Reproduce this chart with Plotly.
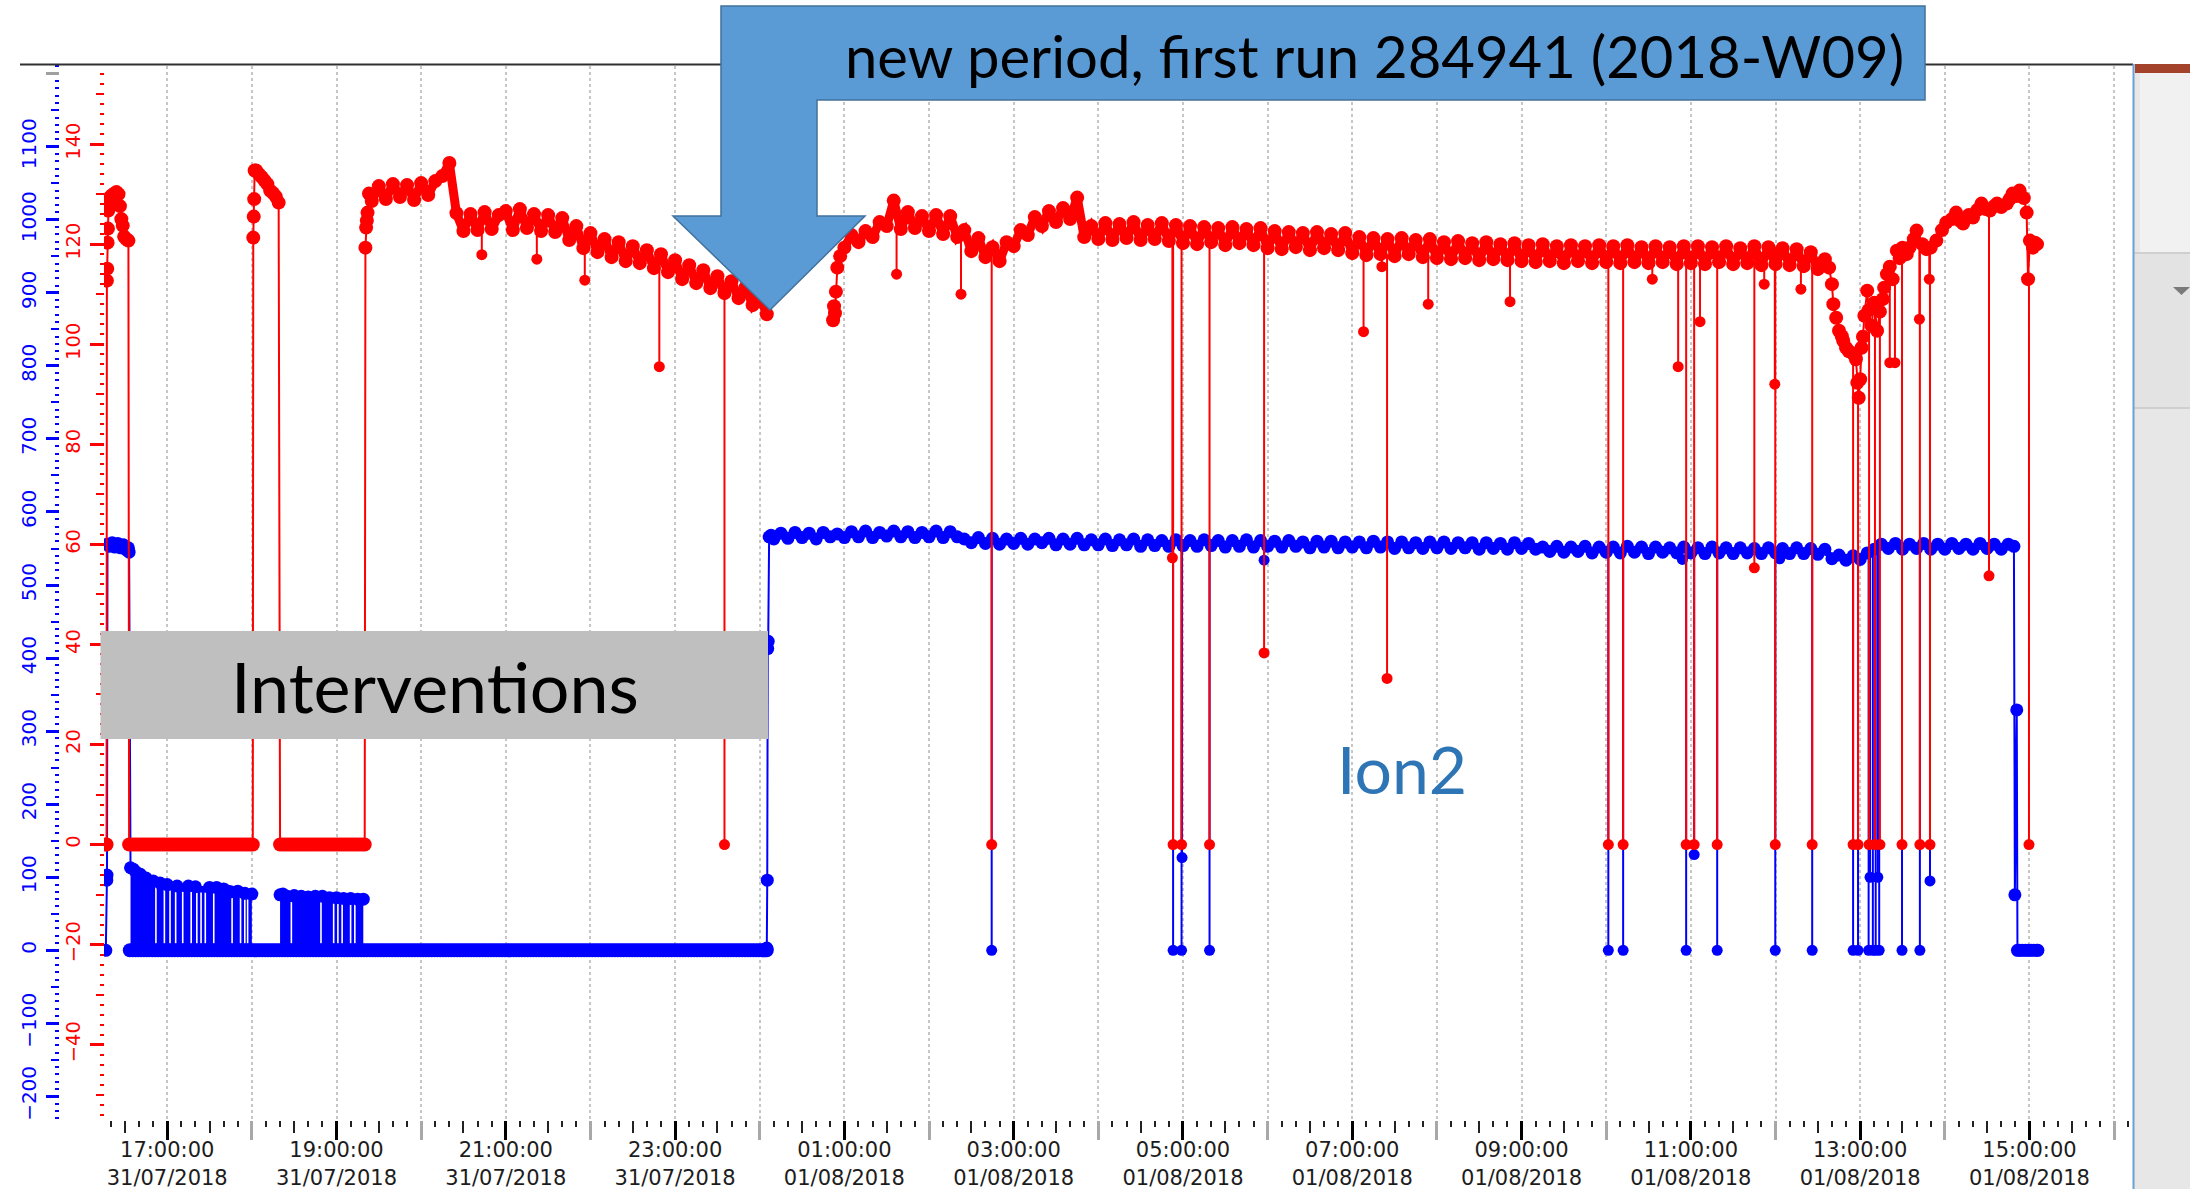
import pandas as pd
import plotly.graph_objects as go

W, H = 2190, 1189
BLUE = "#0000FF"
RED = "#FF0000"

# ---------------- red channel (right-hand scale, -55 .. 155) ----------------
red_a_t = ["16:16:30", "16:17:00", "16:17:15", "16:17:30", "16:17:45", "16:18:00", "16:18:15",
           "16:18:30", "16:19:30", "16:21:00", "16:22:30", "16:24:00", "16:25:30", "16:26:30",
           "16:27:30", "16:28:30", "16:29:30", "16:31:00", "16:32:30"]
red_a_v = [0, 0, 112.7, 115.1, 120.3, 123.1, 126.7, 128.7, 129.4, 129.8, 130.1, 130.4, 130.0,
           127.6, 125.0, 123.7, 121.5, 121.0, 120.7]

red_b_t = ["18:01:00", "18:01:20", "18:01:40", "18:02:00", "18:03", "18:05", "18:07", "18:09",
           "18:11", "18:13", "18:15", "18:17", "18:19"]
red_b_v = [121.3, 125.5, 129.0, 134.7, 134.7, 134.0, 133.4, 132.7, 132.0, 130.7, 130.2, 129.5, 128.3]

red_c0_t = ["19:20:30", "19:21:00", "19:21:30", "19:22:00", "19:23:00"]
red_c0_v = [119.3, 123.3, 124.7, 126.3, 130.1]

# 5-minute samples from 19:25 to 00:05
red_c_v = [128.6, 131.6, 129.0, 132.0, 129.4, 131.8, 128.8,
           132.2, 129.8, 132.6, 133.6, 136.2, 126.2, 122.6, 126.0, 122.8, 126.4, 123.0, 125.8,
           126.6, 122.8, 127.0, 123.2, 126.0, 122.6, 125.8, 122.4, 125.2, 120.8, 123.6, 119.2,
           122.2, 118.4, 121.0, 117.4, 120.4, 116.6, 119.6, 116.2, 118.8, 115.2, 118.0, 114.4,
           116.8, 113.0, 115.8, 112.2, 114.8, 111.2, 113.6, 110.2, 112.6, 109.2, 111.4, 107.8,
           109.4, 106.0]

red_d0_t = ["00:52:00", "00:52:40", "00:53:20", "00:54:00", "00:55:00", "00:57:00"]
red_d0_v = [104.8, 107.6, 106.2, 110.5, 115.3, 117.6]

# 5-minute samples from 01:00 to 12:35
red_d1_v = [119.3, 121.8, 120.4, 122.6, 121.4, 124.4, 123.6, 128.7, 123.0, 126.4, 123.2, 125.6,
            122.6, 125.8, 122.0, 125.6, 121.4, 122.8, 118.6, 121.2, 117.4, 119.4, 116.6, 120.4,
            119.6, 122.8, 121.8, 125.4, 123.6, 126.6, 124.4, 127.2, 125.0, 129.3, 121.4, 123.6,
            121.0, 124.2, 120.8, 124.0, 121.2, 124.4, 120.8, 123.8, 121.0, 124.2, 120.6, 123.8,
            120.2, 123.6, 120.0, 123.4, 120.4, 123.2, 119.8, 123.4, 120.2, 123.0, 119.8, 123.2,
            119.2, 122.6, 119.0, 122.4, 119.4, 122.2, 118.8, 122.4, 119.2, 122.0, 118.8, 122.2,
            118.2, 121.4, 117.8, 121.2, 118.0, 121.0, 117.6, 121.2, 118.0, 120.8, 117.4, 121.0,
            117.2, 120.4, 117.0, 120.6, 117.2, 120.2, 116.8, 120.4, 117.0, 120.0, 116.8, 120.2,
            116.6, 119.8, 116.4, 120.0, 116.6, 119.6, 116.2, 119.8, 116.6, 119.6, 116.2, 119.8,
            116.4, 119.6, 116.2, 119.8, 116.4, 119.4, 116.2, 119.6, 116.4, 119.4, 116.0, 119.6,
            116.2, 119.6, 116.0, 119.4, 116.4, 119.6, 116.0, 119.2, 116.2, 119.6, 115.8, 119.4,
            116.0, 119.2, 115.8, 119.0, 115.6, 118.4, 115.0, 117.0]

red_d2_t = ["12:38", "12:40", "12:41", "12:43", "12:45", "12:47", "12:48", "12:50", "12:52",
            "12:55", "12:57", "12:58", "12:59", "13:00", "13:01", "13:02", "13:03", "13:05",
            "13:06", "13:08", "13:10", "13:12", "13:14", "13:16", "13:17", "13:19", "13:21",
            "13:23", "13:26", "13:28", "13:30", "13:33", "13:35", "13:38", "13:40", "13:44",
            "13:47", "13:50", "13:54", "13:58", "14:01", "14:05", "14:08", "14:11", "14:13",
            "14:17", "14:20", "14:23", "14:26", "14:29", "14:32", "14:35", "14:37", "14:40",
            "14:44", "14:46", "14:48", "14:51", "14:53", "14:56", "14:58", "14:59",
            "15:00:20", "15:02:30", "15:04:00", "15:05:20"]
red_d2_v = [115.3, 112.0, 108.0, 105.3, 102.7, 101.6, 100.7, 99.3, 98.6,
            98.1, 97.0, 92.3, 89.3, 93.0, 99.3, 101.5, 105.7, 110.7,
            106.8, 103.7, 108.3, 102.7, 106.5, 109.0, 111.3, 114.0, 115.5,
            113.0, 118.7, 117.2, 119.3, 118.0, 119.3, 121.0, 122.7, 120.0,
            119.0, 119.3, 120.7, 122.8, 124.3, 125.0, 126.3, 124.6, 124.1,
            125.8, 125.3, 126.8, 128.1, 127.0, 126.7, 127.6, 128.1, 127.4,
            128.1, 129.0, 130.1, 129.6, 130.7, 129.2, 126.3, 113.0,
            120.7, 119.3, 120.3, 120.0]

red_zero_spans = [("16:33:00", "18:00:40"), ("18:20:00", "19:20:00")]

# short drop-outs of the red channel: time, lowest reading
red_drop_t = ["20:43", "21:22", "21:56", "22:48:50", "23:35", "01:37", "02:22:40", "02:44:25",
              "04:52:30", "04:53:00", "04:59:00", "05:18:50", "05:57:30", "07:08", "07:21",
              "07:24:40", "07:53:50", "08:51:50", "10:01:30", "10:12:00", "10:32:40", "10:51:00",
              "10:56:40", "11:02:20", "11:06:30", "11:18:40", "11:45:00", "11:52:00", "11:59:30",
              "11:59:50", "12:18:00", "12:26:00", "12:55:00", "12:58:30", "13:06:20", "13:10:30",
              "13:14:00", "13:21:00", "13:24:40", "13:29:40", "13:42:00", "13:42:20", "13:49:00",
              "13:49:30", "14:31:20", "14:59:40"]
red_drop_v = [117.9, 117.0, 112.8, 95.5, 0, 114.0, 110.0, 0,
              57.3, 0, 0, 0, 38.3, 102.5, 115.5,
              33.2, 108.0, 108.5, 0, 0, 113.0, 95.5,
              0, 0, 104.5, 0, 55.3, 112.0, 92.0,
              0, 111.0, 0, 0, 0, 0, 0,
              0, 96.3, 96.3, 0, 105.0, 0, 113.0,
              0, 53.7, 0]

# ---------------- blue channel (left-hand scale, -232 .. 1210) ----------------
blue_pre_t = ["16:16:30", "16:17:00", "16:17:10", "16:17:20", "16:17:40", "16:19", "16:21",
              "16:23", "16:25", "16:27", "16:29", "16:31", "16:32:30", "16:33:00"]
blue_pre_v = [0, 100, 96, 103, 556, 553, 558, 552, 557, 551, 555, 548, 551, 545]

comb1_t = ["16:34", "16:36", "16:38", "16:41", "16:45", "16:50", "16:55", "17:00", "17:07",
           "17:15", "17:20", "17:30", "17:35", "17:40", "17:43", "17:45", "17:50", "17:55", "18:00"]
comb1_top = [113, 111, 107, 104, 99, 95, 92, 90, 88, 88, 87, 86, 86, 84, 81, 80, 81, 78, 77]

comb2_t = ["18:20", "18:22", "18:25", "18:30", "18:35", "18:40", "18:45", "18:50", "18:55",
           "19:00", "19:05", "19:10", "19:15", "19:19"]
comb2_top = [76, 77, 74, 75, 74, 73, 74, 74, 72, 72, 71, 71, 70, 70]

# short pauses inside the switching intervals where the channel stayed at zero
comb_pause_t = ["16:52", "16:58", "17:02", "17:06", "17:11", "17:17", "17:21", "17:24",
                "17:27", "17:33", "17:46", "17:52", "17:55", "17:57",
                "18:28", "18:49", "18:58", "19:01", "19:04", "19:10", "19:13"]

blue_zero_span = ("16:33:30", "00:05:00")

blue_jump_t = ["00:05:00", "00:05:20", "00:05:40", "00:06:00", "00:06:40", "00:08:00"]
blue_jump_v = [3, 96, 413, 423, 566, 568]

# 5-minute samples from 00:10 to 14:45
blue_plateau_v = [563, 571, 564, 572, 565, 571, 563, 572, 566, 570,
                  565, 573, 566, 574, 565, 572, 567, 574, 566, 573, 565, 572,
                  566, 574, 565, 573, 566, 563, 558, 565, 557, 564, 556, 563,
                  557, 564, 556, 563, 558, 564, 555, 563, 556, 564, 555, 562,
                  555, 563, 554, 562, 555, 563, 553, 562, 554, 561, 553, 562,
                  554, 561, 553, 562, 554, 561, 552, 561, 553, 562, 552, 561,
                  553, 560, 552, 561, 553, 559, 551, 560, 552, 560, 551, 559,
                  552, 559, 551, 560, 552, 559, 550, 559, 551, 558, 550, 559,
                  551, 559, 550, 558, 551, 558, 549, 558, 550, 557, 549, 558,
                  550, 557, 549, 552, 546, 553, 545, 552, 546, 553, 544, 552,
                  545, 552, 544, 553, 545, 552, 543, 552, 545, 551, 544, 552,
                  544, 551, 543, 552, 544, 551, 543, 551, 544, 550, 543, 551,
                  544, 550, 543, 551, 543, 550, 542, 549, 536, 541, 534, 540,
                  535, 544, 549, 556, 550, 557, 549, 556, 550, 557, 549, 556,
                  549, 557, 550, 556, 549, 557, 550, 556, 549, 556]

blue_end_t = ["14:49:00", "14:49:40", "14:51:00", "14:51:30", "14:53", "14:55", "14:57",
              "14:59", "15:01", "15:03", "15:05", "15:06"]
blue_end_v = [553, 76, 329, 0, 0, 0, 0, 0, 0, 0, 0, 0]

blue_drop_t = ["02:44:25", "04:53:00", "04:59:00", "04:59:20", "05:18:50", "05:57:30",
               "10:01:30", "10:12:00", "10:54:00", "10:56:40", "11:02:20", "11:18:40",
               "11:59:50", "12:03:00", "12:26:00", "12:55:00", "12:58:30", "13:06:00",
               "13:07:00", "13:09:00", "13:11:00", "13:12:30", "13:13:30", "13:29:40",
               "13:42:20", "13:49:30"]
blue_drop_v = [0, 0, 0, 127, 0, 534,
               0, 0, 535, 0, 131, 0,
               0, 536, 0, 0, 0, 0,
               100, 0, 0, 100, 0, 0,
               0, 95]

# ---------------- axis ticks ----------------
blue_ticks = list(range(-200, 1101, 100))
blue_mid_ticks = list(range(-150, 1151, 100))
red_ticks = list(range(-40, 141, 20))
red_mid_ticks = list(range(-50, 151, 20))

BLUE_RANGE = [-232.3, 1210.5]
RED_RANGE = [-55.05, 155.6]
X_RANGE = ["2018-07-31 16:15:12", "2018-08-01 16:13:24"]


def ts(s):
    # clock times from 16:00 onwards fall on 31 July, the rest on 1 August
    if s.count(":") == 1:
        s += ":00"
    day = "2018-07-31" if int(s.split(":")[0]) >= 16 else "2018-08-01"
    return pd.Timestamp(f"{day} {s}")


def tl(lst):
    return [ts(s) for s in lst]


def grid(start, n, minutes=5):
    return list(pd.date_range(ts(start), periods=n, freq=f"{minutes}min"))


def span(start, end, minutes=2):
    t = list(pd.date_range(ts(start), ts(end), freq=f"{minutes}min"))
    if t[-1] != ts(end):
        t.append(ts(end))
    return t


def fmt(lst):
    return [None if t is None else t.strftime("%Y-%m-%d %H:%M:%S") for t in lst]


def drops(times, lows, base_t, base_v):
    s = pd.Series([v for t, v in zip(base_t, base_v) if t is not None],
                  index=pd.DatetimeIndex([t for t in base_t if t is not None])).sort_index()
    xs, ys = [], []
    for t, low in zip(tl(times), lows):
        level = s[s.index <= t].iloc[-1]
        xs += [t, t, None]
        ys += [level, low, None]
    return xs, ys


# red main series
red_c_t = grid("19:25", len(red_c_v))
red_d1_t = grid("01:00", len(red_d1_v))
z1 = span(*red_zero_spans[0])
z2 = span(*red_zero_spans[1])
red_x = (tl(red_a_t) + z1 + tl(red_b_t) + z2 + tl(red_c0_t) + red_c_t
         + [None] + tl(red_d0_t) + red_d1_t + tl(red_d2_t))
red_y = (red_a_v + [0] * len(z1) + red_b_v + [0] * len(z2) + red_c0_v + red_c_v
         + [None] + red_d0_v + red_d1_v + red_d2_v)

# blue main series
blue_p_t = grid("00:10", len(blue_plateau_v))
blue_x = (tl(blue_pre_t) + tl(comb1_t) + [None] + tl(comb2_t) + [None] + tl(blue_jump_t)
          + blue_p_t + tl(blue_end_t))
blue_y = (blue_pre_v + comb1_top + [None] + comb2_top + [None] + blue_jump_v
          + blue_plateau_v + blue_end_v)
bz = span(*blue_zero_span)

rdx, rdy = drops(red_drop_t, red_drop_v, red_x, red_y)
bdx, bdy = drops(blue_drop_t, blue_drop_v, blue_x, blue_y)

# pauses: thin white slots cut through the combs (top of comb -> just above the zero band)
comb_s = pd.Series(comb1_top + comb2_top, index=pd.DatetimeIndex(tl(comb1_t) + tl(comb2_t)))
px_, py_ = [], []
for t in tl(comb_pause_t):
    top = comb_s[comb_s.index <= t].iloc[-1]
    px_ += [t, t, None]
    py_ += [top - 8, 9, None]

LINE_W = 2
MK = 11
MK_BAND = 14
BAND_W = 9

fig = go.Figure()

# switching intervals of the blue channel, drawn as solid combs
for ct, ctop in ((comb1_t, comb1_top), (comb2_t, comb2_top)):
    tt = tl(ct)
    fig.add_trace(go.Scatter(x=fmt(tt + [tt[-1], tt[0]]), y=ctop + [0, 0], fill="toself",
                             fillcolor=BLUE, mode="lines", line=dict(width=0, color=BLUE),
                             yaxis="y", hoverinfo="skip"))
fig.add_trace(go.Scatter(x=fmt(px_), y=py_, mode="lines", line=dict(color="white", width=1.6),
                         yaxis="y", hoverinfo="skip"))

fig.add_trace(go.Scatter(x=fmt(bz), y=[0] * len(bz), mode="lines+markers",
                         line=dict(color=BLUE, width=3),
                         marker=dict(color=BLUE, size=MK_BAND), yaxis="y"))
fig.add_trace(go.Scatter(x=fmt(bdx), y=bdy, mode="lines", line=dict(color=BLUE, width=LINE_W),
                         yaxis="y"))
fig.add_trace(go.Scatter(x=fmt(tl(blue_drop_t)), y=blue_drop_v, mode="markers",
                         marker=dict(color=BLUE, size=MK), yaxis="y"))
# densely logged stretch: the samples merge into a solid ribbon
fig.add_trace(go.Scatter(x=fmt(blue_p_t), y=blue_plateau_v, mode="lines",
                         line=dict(color=BLUE, width=BAND_W - 2), yaxis="y", hoverinfo="skip"))
fig.add_trace(go.Scatter(x=fmt(blue_x), y=blue_y, mode="lines+markers",
                         line=dict(color=BLUE, width=LINE_W),
                         marker=dict(color=BLUE, size=MK_BAND - 1), yaxis="y",
                         connectgaps=False))

fig.add_trace(go.Scatter(x=fmt(rdx), y=rdy, mode="lines", line=dict(color=RED, width=LINE_W),
                         yaxis="y2"))
fig.add_trace(go.Scatter(x=fmt(tl(red_drop_t)), y=red_drop_v, mode="markers",
                         marker=dict(color=RED, size=MK), yaxis="y2"))
for bt, bv in ((red_c_t, red_c_v), (red_d1_t, red_d1_v)):
    fig.add_trace(go.Scatter(x=fmt(bt), y=bv, mode="lines", line=dict(color=RED, width=BAND_W),
                             yaxis="y2", hoverinfo="skip"))
fig.add_trace(go.Scatter(x=fmt(red_x), y=red_y, mode="lines+markers",
                         line=dict(color=RED, width=LINE_W),
                         marker=dict(color=RED, size=MK_BAND), yaxis="y2", connectgaps=False))

# empty traces so that the tick-only overlay axes are laid out
for xa, ya in (("x2", "y"), ("x3", "y"), ("x4", "y"), ("x", "y3"), ("x", "y4"), ("x", "y5")):
    fig.add_trace(go.Scatter(x=[], y=[], xaxis=xa, yaxis=ya, hoverinfo="skip"))

X0, X1 = 104, 2133
Y_TOP, Y_BOT = 66, 1120
TICK_FONT = dict(family="DejaVu Sans", size=21, color="#1c1c1c")

xbase = dict(type="date", range=X_RANGE, showline=False, zeroline=False, showgrid=False,
             automargin=False)
ybase = dict(showgrid=False, zeroline=False, showline=False, automargin=False, side="left",
             anchor="free")

fig.update_layout(
    width=W, height=H, margin=dict(l=0, r=0, t=0, b=0, autoexpand=False),
    paper_bgcolor="white", plot_bgcolor="white", showlegend=False,
    xaxis=dict(**xbase, domain=[X0 / W, X1 / W], anchor="y",
               tickmode="linear", tick0="2018-07-31 17:00", dtick=7200000,
               ticks="outside", ticklen=19, tickwidth=3, tickcolor="#000000",
               tickformat="%H:%M:%S<br>%d/%m/%Y", tickfont=TICK_FONT, ticklabelstandoff=-8,
               minor=dict(ticks="outside", tick0="2018-07-31 17:00", dtick=600000,
                          ticklen=6, tickwidth=1.5, tickcolor="#222222", showgrid=False)),
    xaxis2=dict(**xbase, overlaying="x", anchor="y", tickmode="linear",
                tick0="2018-07-31 16:30", dtick=3600000, ticks="outside", ticklen=12,
                tickwidth=1.5, tickcolor="#222222", showticklabels=False),
    xaxis3=dict(**xbase, overlaying="x", anchor="y", tickmode="linear",
                tick0="2018-07-31 18:00", dtick=7200000, ticks="outside", ticklen=19,
                tickwidth=3, tickcolor="#a8a8a8", showticklabels=False),
    xaxis4=dict(type="date", range=X_RANGE, overlaying="x", anchor="y", tickmode="linear",
                tick0="2018-07-31 16:00", dtick=3600000, ticks="", showticklabels=False,
                showline=False, zeroline=False, showgrid=True, griddash="dot",
                gridcolor="#c6c6c6", gridwidth=1.5, automargin=False),
    yaxis=dict(**ybase, domain=[1 - Y_BOT / H, 1 - Y_TOP / H], range=BLUE_RANGE,
               position=59 / W,
               tickmode="array", tickvals=blue_ticks, ticks="outside", ticklen=13, tickwidth=3,
               tickcolor=BLUE, tickangle=-90,
               tickfont=dict(family="DejaVu Sans", size=20, color=BLUE), ticklabelstandoff=2,
               minor=dict(ticks="outside", tickmode="linear", tick0=0, dtick=10, ticklen=4,
                          tickwidth=2, tickcolor=BLUE, showgrid=False)),
    yaxis2=dict(**ybase, range=RED_RANGE, overlaying="y", position=X0 / W,
                tickmode="array", tickvals=red_ticks, ticks="outside", ticklen=14, tickwidth=3,
                tickcolor=RED, tickangle=-90,
                tickfont=dict(family="DejaVu Sans", size=19.5, color=RED), ticklabelstandoff=2,
                minor=dict(ticks="outside", tickmode="linear", tick0=0, dtick=2, ticklen=4,
                           tickwidth=2, tickcolor=RED, showgrid=False)),
    yaxis3=dict(**ybase, range=BLUE_RANGE, overlaying="y", position=59 / W, tickmode="array",
                tickvals=blue_mid_ticks, ticks="outside", ticklen=8, tickwidth=2,
                tickcolor=BLUE, showticklabels=False),
    yaxis4=dict(**ybase, range=RED_RANGE, overlaying="y", position=X0 / W, tickmode="array",
                tickvals=red_mid_ticks, ticks="outside", ticklen=8, tickwidth=2,
                tickcolor=RED, showticklabels=False),
    yaxis5=dict(**ybase, range=BLUE_RANGE, overlaying="y", position=59 / W, tickmode="array",
                tickvals=[1200], ticks="outside", ticklen=13, tickwidth=3,
                tickcolor="#a0a0a0", showticklabels=False),
)


def px(x):
    return x / W


def py(y):
    return 1 - y / H


shapes = []
# frame line across the top
shapes.append(dict(type="line", xref="paper", yref="paper", x0=px(20), x1=px(2133),
                   y0=py(64.5), y1=py(64.5), line=dict(color="#303030", width=2), layer="above"))
# side panel on the right
shapes.append(dict(type="rect", xref="paper", yref="paper", x0=px(2133), x1=px(2190),
                   y0=py(64), y1=py(1189), fillcolor="#e7e7e7", line=dict(width=0), layer="above"))
shapes.append(dict(type="rect", xref="paper", yref="paper", x0=px(2140), x1=px(2190),
                   y0=py(73), y1=py(253), fillcolor="#f1f1f1", line=dict(width=0), layer="above"))
shapes.append(dict(type="rect", xref="paper", yref="paper", x0=px(2133), x1=px(2190),
                   y0=py(253), y1=py(408), fillcolor="#e3e3e3", line=dict(width=0), layer="above"))
for yy in (253, 408):
    shapes.append(dict(type="line", xref="paper", yref="paper", x0=px(2133), x1=px(2190),
                       y0=py(yy), y1=py(yy), line=dict(color="#cfcfcf", width=2), layer="above"))
shapes.append(dict(type="rect", xref="paper", yref="paper", x0=px(2135), x1=px(2190),
                   y0=py(64), y1=py(73), fillcolor="#a4432c", line=dict(width=0), layer="above"))
shapes.append(dict(type="line", xref="paper", yref="paper", x0=px(2133.5), x1=px(2133.5),
                   y0=py(64), y1=py(1189), line=dict(color="#6aa0d4", width=2), layer="above"))
shapes.append(dict(type="path", xref="paper", yref="paper",
                   path=f"M {px(2173)} {py(287)} L {px(2190)} {py(287)} L {px(2181.5)} {py(295)} Z",
                   fillcolor="#7a7a7a", line=dict(width=0), layer="above"))
# call-out arrow
pts = [(721, 6), (1925, 6), (1925, 100), (817, 100), (817, 216), (865, 216), (770, 310),
       (673, 216), (721, 216)]
path = "M " + " L ".join(f"{px(a):.5f} {py(b):.5f}" for a, b in pts) + " Z"
shapes.append(dict(type="path", xref="paper", yref="paper", path=path, fillcolor="#5b9bd5",
                   line=dict(color="#41719c", width=1.5), layer="above"))
# grey label box
shapes.append(dict(type="rect", xref="paper", yref="paper", x0=px(100.5), x1=px(768),
                   y0=py(631), y1=py(739), fillcolor="#bfbfbf", line=dict(width=0),
                   layer="above"))

fig.update_layout(shapes=shapes)

fig.add_annotation(text="new period, first run 284941 (2018-W09)", xref="paper", yref="paper",
                   x=px(1374), y=py(56), xanchor="center", yanchor="middle", showarrow=False,
                   font=dict(family="Lato", size=58, color="#000000"))
fig.add_annotation(text="Interventions", xref="paper", yref="paper", x=px(435), y=py(686),
                   xanchor="center", yanchor="middle", showarrow=False,
                   font=dict(family="Lato", size=70, color="#000000"))
fig.add_annotation(text="Ion2", xref="paper", yref="paper", x=px(1402), y=py(768),
                   xanchor="center", yanchor="middle", showarrow=False,
                   font=dict(family="Lato", size=66, color="#2e75b6"))

fig.write_html("out.html")
